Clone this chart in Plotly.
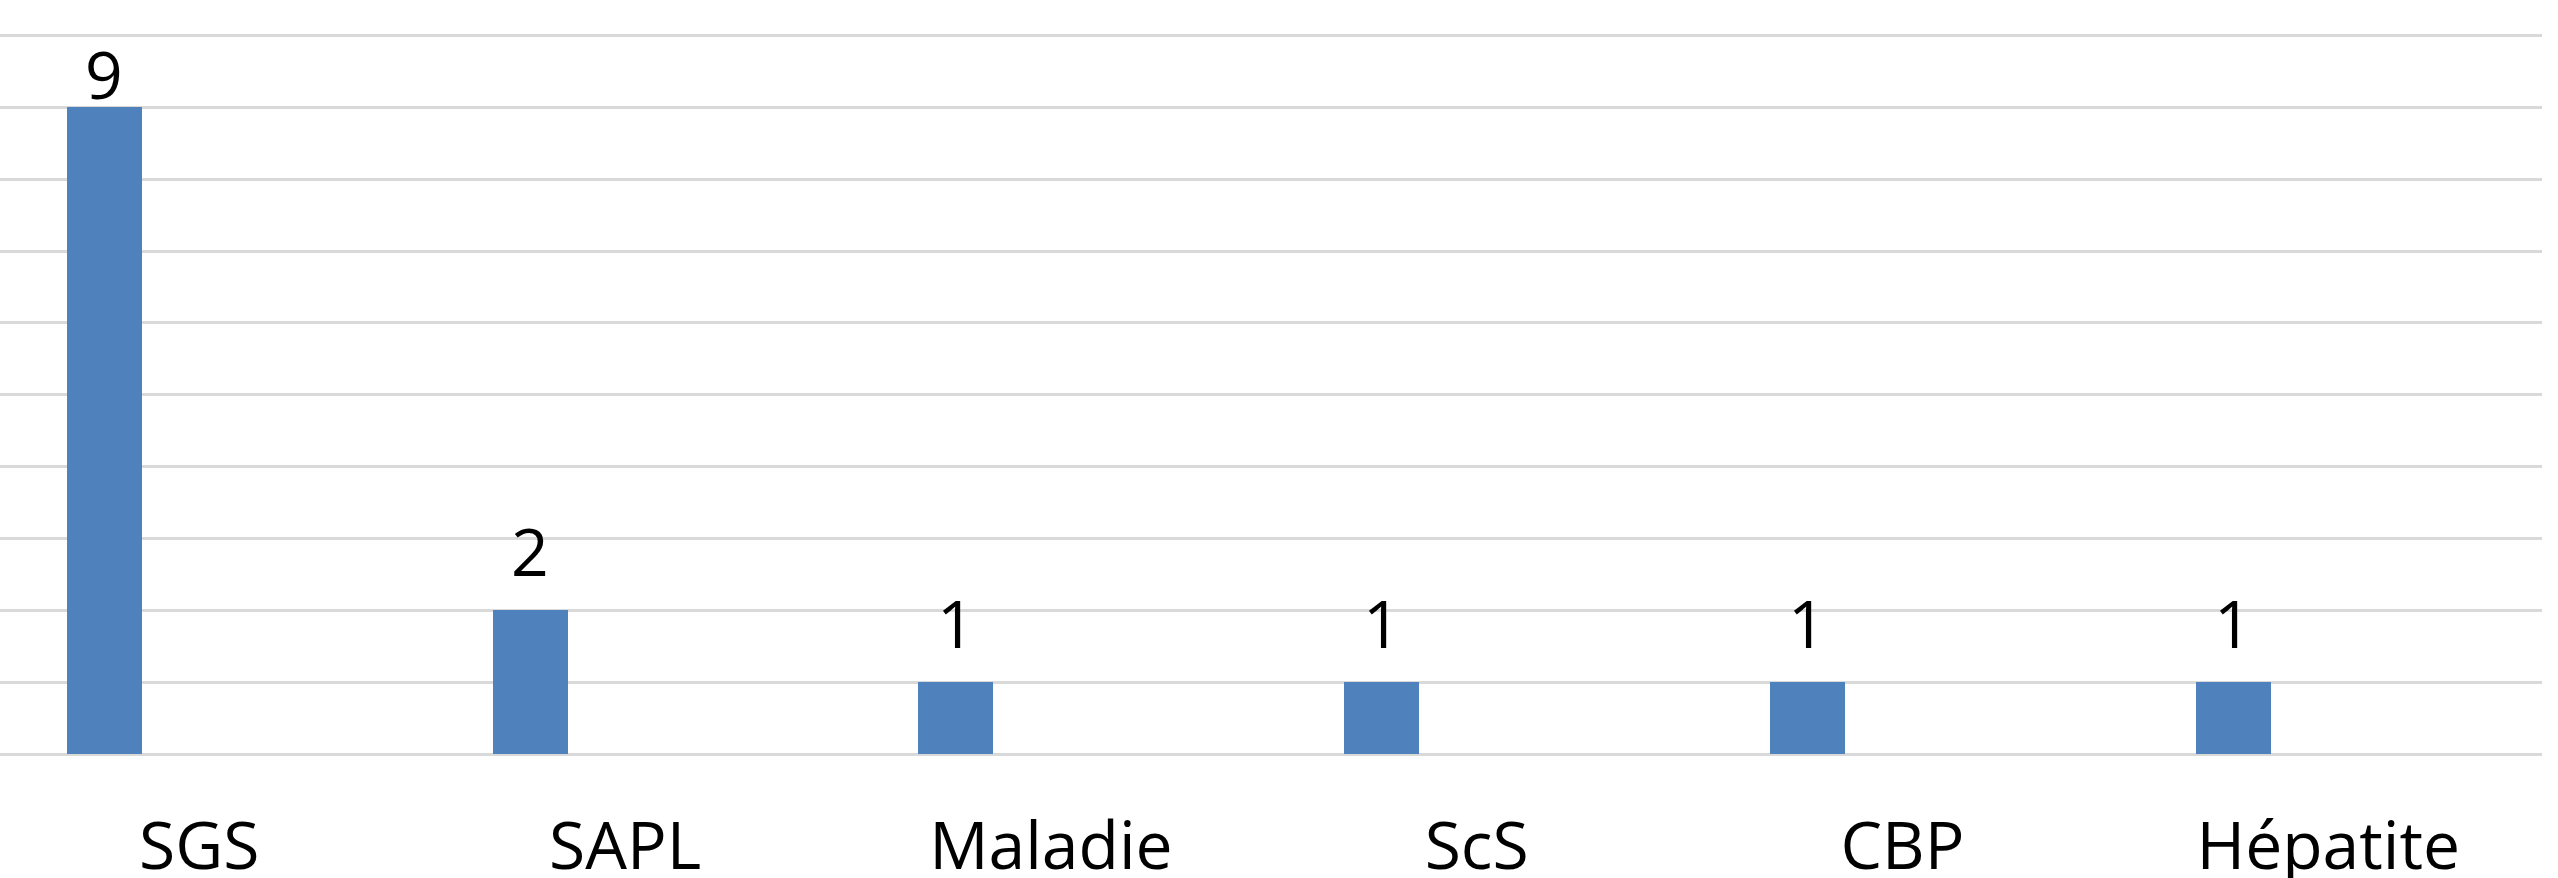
import plotly.graph_objects as go

categories = ["SGS", "SAPL", "Maladie", "ScS", "CBP", "Hépatite"]
values = [9, 2, 1, 1, 1, 1]

FONT = "Open Sans"
FS = 66
Y_MAX = 10.02
TOP, BOTTOM, HEIGHT = 34, 124, 878
PLOT_H = HEIGHT - TOP - BOTTOM
CAT_PX = 425.8          # pixel width of one category band
BAR_W = 0.176
BAR_OFFSET = -0.311
BAR_CENTER = BAR_OFFSET + BAR_W / 2

fig = go.Figure()
fig.add_trace(go.Bar(
    x=categories,
    y=values,
    width=BAR_W,
    offset=BAR_OFFSET,
    marker=dict(color="#4F81BD", line=dict(width=0)),
    hoverinfo="x+y",
))

# data labels: sit ~33px above the bar, but kept inside the chart area (like Excel)
GAP = 33          # px between digit baseline and bar top
DESC = 20         # px between text box bottom and digit baseline
DIGIT_H = 47
MIN_TOP = 53
for cat, v in zip(categories, values):
    bar_top_px = TOP + (1 - v / Y_MAX) * PLOT_H
    digit_bottom = bar_top_px - GAP
    if digit_bottom - DIGIT_H < MIN_TOP:
        digit_bottom = MIN_TOP + DIGIT_H
    shift = (bar_top_px - digit_bottom) - DESC
    fig.add_annotation(
        x=cat, y=v, xref="x", yref="y",
        text=str(v), showarrow=False,
        xanchor="center", yanchor="bottom",
        yshift=shift, xshift=BAR_CENTER * CAT_PX,
        font=dict(family=FONT, size=FS, color="#000000"),
    )

fig.update_layout(
    width=2558,
    height=HEIGHT,
    margin=dict(l=0, r=16, t=TOP, b=BOTTOM, autoexpand=False),
    paper_bgcolor="white",
    plot_bgcolor="white",
    showlegend=False,
    bargap=0,
    xaxis=dict(
        type="category",
        range=[-0.468, 5.502],
        automargin=False,
        showgrid=False,
        showline=False,
        ticks="",
        ticklabelstandoff=48,
        tickfont=dict(family=FONT, size=FS, color="#000000"),
    ),
    yaxis=dict(
        range=[0, Y_MAX],
        automargin=False,
        dtick=1,
        showgrid=True,
        gridcolor="#D9D9D9",
        gridwidth=2.5,
        zeroline=True,
        zerolinecolor="#D9D9D9",
        zerolinewidth=2.5,
        showticklabels=False,
        ticks="",
        showline=False,
    ),
)

fig.write_html(
    "out.html",
    config={"displayModeBar": False},
    post_script="document.body.style.margin='0';document.body.style.overflow='hidden';",
)
